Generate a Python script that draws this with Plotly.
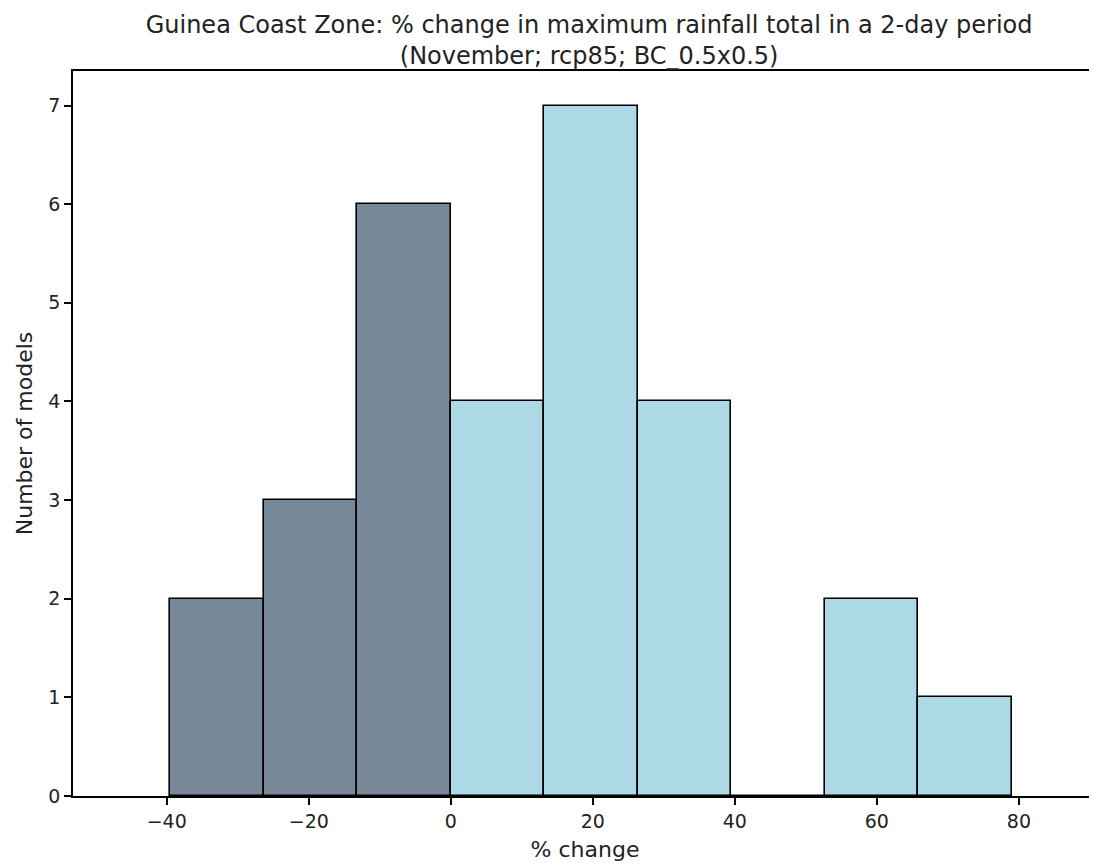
import plotly.graph_objects as go

# histogram of model changes (% change), 9 bins
bin_edges = [-39.5, -26.33, -13.17, 0.0, 13.17, 26.33, 39.5, 52.67, 65.83, 79.0]
counts = [2, 3, 6, 4, 7, 4, 0, 2, 1]
x_ticks = [-40, -20, 0, 20, 40, 60, 80]
y_ticks = [0, 1, 2, 3, 4, 5, 6, 7]

lefts = bin_edges[:-1]
widths = [b - a for a, b in zip(bin_edges[:-1], bin_edges[1:])]
colors = ['#778899' if a < 0 else '#ADD8E6' for a in lefts]

fig = go.Figure()
fig.add_trace(go.Bar(x=lefts, y=counts, width=widths, offset=0,
                     marker=dict(color=colors, line=dict(color='black', width=1.6)),
                     showlegend=False))

# page body has an 8px margin, so the figure is a bit smaller than the window
tick_font = dict(family='DejaVu Sans', size=19, color='#222')
fig.update_layout(
    width=1089, height=857,
    margin=dict(l=65, r=0, t=63, b=69),
    plot_bgcolor='white', paper_bgcolor='white',
    font=dict(family='DejaVu Sans', size=18, color='#222'), bargap=0,
    title=dict(text="Guinea Coast Zone: % change in maximum rainfall total in a 2-day period<br>"
                    "(November; rcp85; BC_0.5x0.5)",
               x=0.504, xref='paper', xanchor='center',
               y=1 - 25 / 857, yref='container', yanchor='bottom',
               font=dict(family='DejaVu Sans', size=24, color='#222')),
)
fig.update_xaxes(range=[-53.2, 91.0], tickvals=x_ticks, showgrid=False, zeroline=False,
                 showline=True, linecolor='black', linewidth=1.5, mirror=True,
                 ticks='outside', ticklen=7, tickwidth=1.5, tickcolor='black',
                 tickfont=tick_font,
                 title=dict(text='% change', standoff=11))
fig.update_yaxes(range=[0, 7.35], tickvals=y_ticks, showgrid=False, zeroline=False,
                 showline=True, linecolor='black', linewidth=1.5,
                 ticks='outside', ticklen=7, tickwidth=1.5, tickcolor='black',
                 tickfont=tick_font,
                 title=dict(text='Number of models', standoff=10))

fig.write_html("out.html")
